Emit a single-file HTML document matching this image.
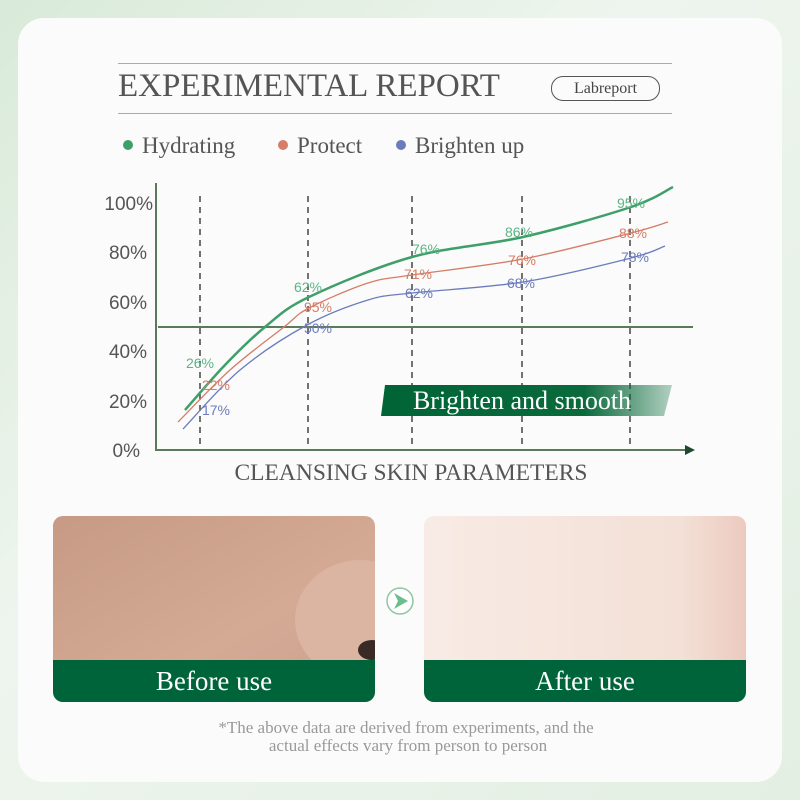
<!DOCTYPE html><html><head><style>
body{margin:0;width:800px;height:800px;background:linear-gradient(135deg,#d9ead9,#eef5ee 40%,#e3efe3);font-family:"Liberation Serif",serif;position:relative;overflow:hidden}
.card{position:absolute;left:18px;top:18px;width:764px;height:764px;background:#fafbfa;border-radius:26px}
.a{position:absolute}
</style></head><body><div class="card"></div>
<div class="a" style="left:118px;top:63px;width:554px;border-top:1px solid #aaa"></div>
<div class="a" style="left:118px;top:113px;width:554px;border-top:1px solid #aaa"></div>
<div class="a" style="left:118px;top:68px;font-size:33px;color:#555;letter-spacing:0px">EXPERIMENTAL REPORT</div>
<div class="a" style="left:551px;top:76px;width:107px;height:23px;border:1px solid #555;border-radius:12px;text-align:center;font-size:16px;line-height:23px;color:#444">Labreport</div>
<svg class="a" style="left:0;top:0" width="800" height="800">
<circle cx="128" cy="145" r="5" fill="#3f9f6a"/><circle cx="283" cy="145" r="5" fill="#d57d66"/><circle cx="401" cy="145" r="5" fill="#6c7cbb"/>
<g font-size="23" fill="#555" font-family="Liberation Serif,serif"><text x="142" y="153">Hydrating</text><text x="297" y="153">Protect</text><text x="415" y="153">Brighten up</text></g>
<g font-family="Liberation Sans,sans-serif" font-size="19" fill="#555" text-anchor="end"><text x="153" y="210">100%</text><text x="147" y="259">80%</text><text x="147" y="309">60%</text><text x="147" y="358">40%</text><text x="147" y="408">20%</text><text x="140" y="457">0%</text></g>
<g stroke="#444" stroke-dasharray="6,5" stroke-width="1.5"><line x1="200" y1="196" x2="200" y2="450"/><line x1="308" y1="196" x2="308" y2="450"/><line x1="412" y1="196" x2="412" y2="450"/><line x1="522" y1="196" x2="522" y2="450"/><line x1="630" y1="196" x2="630" y2="450"/></g>
<line x1="156" y1="183" x2="156" y2="451" stroke="#5a7a5a" stroke-width="2"/>
<line x1="156" y1="450" x2="686" y2="450" stroke="#5a7a5a" stroke-width="2"/>
<polygon points="685,445 695,450 685,455" fill="#1d4a2a"/>
<line x1="158" y1="327" x2="693" y2="327" stroke="#5a7a5a" stroke-width="2"/>
<path id="pg" fill="none" stroke="#3f9f6a" stroke-width="2.5"/>
<path id="po" fill="none" stroke="#d57d66" stroke-width="1.3"/>
<path id="pb" fill="none" stroke="#6c7cbb" stroke-width="1.3"/>
<g font-family="Liberation Sans,sans-serif" font-size="14" text-anchor="middle">
<g fill="#5cb586"><text x="200" y="368">26%</text><text x="308" y="292">62%</text><text x="426" y="254">76%</text><text x="519" y="237">86%</text><text x="631" y="208">95%</text></g>
<g fill="#d57d66"><text x="216" y="390">22%</text><text x="318" y="312">95%</text><text x="418" y="279">71%</text><text x="522" y="265">76%</text><text x="633" y="238">88%</text></g>
<g fill="#6c7cbb"><text x="216" y="415">17%</text><text x="318" y="333">50%</text><text x="419" y="298">62%</text><text x="521" y="288">68%</text><text x="635" y="262">78%</text></g></g>
<defs><linearGradient id="g" x1="0" x2="1"><stop offset="0" stop-color="#006437"/><stop offset="0.7" stop-color="#0a6a3c"/><stop offset="1" stop-color="#0a6a3c" stop-opacity="0.3"/></linearGradient>
<linearGradient id="s1" x1="0" y1="0" x2="1" y2="1"><stop offset="0" stop-color="#c69a85"/><stop offset="0.6" stop-color="#d5aa95"/><stop offset="1" stop-color="#caa08e"/></linearGradient>
<linearGradient id="s2" x1="0" y1="0" x2="1" y2="0"><stop offset="0" stop-color="#f8ebe5"/><stop offset="0.8" stop-color="#f3e0d6"/><stop offset="1" stop-color="#eccabf"/></linearGradient></defs>
<polygon points="385,385 672,385 664,416 381,416" fill="url(#g)"/>
<text x="522" y="409" fill="#fff" font-size="26" text-anchor="middle">Brighten and smooth</text>
<text x="411" y="480" fill="#555" font-size="23.5" text-anchor="middle">CLEANSING SKIN PARAMETERS</text>
<clipPath id="c1"><rect x="53" y="516" width="322" height="186" rx="10"/></clipPath>
<clipPath id="c2"><rect x="424" y="516" width="322" height="186" rx="10"/></clipPath>
<g clip-path="url(#c1)"><rect x="53" y="516" width="322" height="186" fill="url(#s1)"/><ellipse cx="360" cy="620" rx="65" ry="60" fill="#dbb4a2"/><ellipse cx="372" cy="650" rx="14" ry="10" fill="#3a2a25"/><rect x="53" y="660" width="322" height="42" fill="#00643a"/></g>
<g clip-path="url(#c2)"><rect x="424" y="516" width="322" height="186" fill="url(#s2)"/><rect x="424" y="660" width="322" height="42" fill="#00643a"/></g>
<text x="214" y="690" fill="#fff" font-size="27" text-anchor="middle">Before use</text>
<text x="585" y="690" fill="#fff" font-size="27" text-anchor="middle">After use</text>
<circle cx="400" cy="601" r="13" fill="#fff" stroke="#8fc7a4" stroke-width="1.5"/><polygon points="394,593 408,601 394,609 398,601" fill="#6bbf8c"/>
<g fill="#999" font-size="17" text-anchor="middle"><text x="406" y="733">*The above data are derived from experiments, and the</text><text x="408" y="751">actual effects vary from person to person</text></g>
</svg>
<script>
function cr(p){let d="M"+p[0][0]+","+p[0][1];for(let i=0;i<p.length-1;i++){const a=p[i-1]||p[i],b=p[i],c=p[i+1],e=p[i+2]||c;d+=" C"+(b[0]+(c[0]-a[0])/6)+","+(b[1]+(c[1]-a[1])/6)+" "+(c[0]-(e[0]-b[0])/6)+","+(c[1]-(e[1]-b[1])/6)+" "+c[0]+","+c[1];}return d;}
document.getElementById("pg").setAttribute("d",cr([[185,410],[225,365],[265,327],[309,297],[412,257],[523,237],[631,207],[673,187]]));
document.getElementById("po").setAttribute("d",cr([[178,422],[230,370],[284,327],[309,308],[368,283],[412,275],[523,259],[631,233],[668,222]]));
document.getElementById("pb").setAttribute("d",cr([[183,429],[240,370],[307,325],[368,300],[412,293],[523,282],[631,258],[665,246]]));
</script>
</body></html>
